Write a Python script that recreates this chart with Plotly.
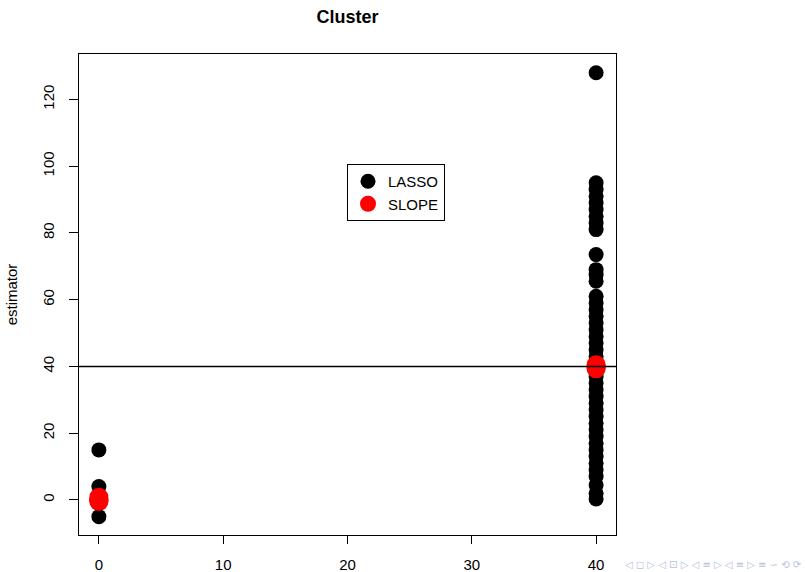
import plotly.graph_objects as go

# LASSO estimates: zero-truth coordinates (x = 0) and the 40-valued cluster (x = 40)
lasso_x0 = [15, 4, 1.5, 0.5, 0, -1, -5]
lasso_x40 = [128, 95, 93, 91, 89, 87, 85, 83, 81, 73.5, 69, 67.5, 65.5,
             61, 59, 57, 55, 53, 51, 49, 47, 45, 43, 41, 39, 37, 35, 33,
             31, 29, 27, 25, 23, 21, 19, 17, 15, 13, 11, 9, 7, 4.5, 2, 0.3]

# SLOPE estimates
slope_x0 = [0.8, 0.3, 0, -0.2, -0.5]
slope_x40 = [40.5, 40, 39.7, 39.3]

true_level = 40
x_ticks = [0, 10, 20, 30, 40]
y_ticks = [0, 20, 40, 60, 80, 100, 120]

lasso_x = [0] * len(lasso_x0) + [40] * len(lasso_x40)
lasso_y = lasso_x0 + lasso_x40
slope_x = [0] * len(slope_x0) + [40] * len(slope_x40)
slope_y = slope_x0 + slope_x40

font = "Liberation Sans, Arial, Helvetica, sans-serif"

fig = go.Figure()
fig.add_trace(go.Scatter(
    x=lasso_x, y=lasso_y, mode="markers", name="LASSO",
    marker=dict(color="black", size=15, line=dict(width=0)),
))
fig.add_trace(go.Scatter(
    x=slope_x, y=slope_y, mode="markers", name="SLOPE",
    marker=dict(color="#FF0000", size=19, line=dict(width=0)),
))

# horizontal reference line at the true cluster value
fig.add_shape(type="line", xref="paper", x0=0, x1=1, yref="y",
              y0=true_level, y1=true_level, line=dict(color="black", width=1.5))

fig.update_layout(
    width=806, height=572,
    margin=dict(l=79, r=190, t=54, b=37),
    paper_bgcolor="white", plot_bgcolor="white",
    font=dict(family=font, size=15, color="black"),
    title=dict(text="<b>Cluster</b>", x=(79 + 616) / 2 / 806, xanchor="center",
               y=1 - 17 / 572, yanchor="middle", font=dict(size=18)),
    showlegend=True,
    legend=dict(x=(347 - 79) / 537, y=(535 - 164) / 481, xanchor="left", yanchor="top",
                bordercolor="black", borderwidth=1, bgcolor="white",
                font=dict(size=15), itemsizing="trace", tracegroupgap=0,
                itemwidth=30),
    xaxis=dict(range=[-1.6, 41.6], tickvals=x_ticks, ticks="outside", ticklen=8,
               tickcolor="black", showgrid=False, zeroline=False,
               showline=True, linecolor="black", mirror=True, linewidth=1,
               ticklabelstandoff=8, tickfont=dict(size=15), automargin=False),
    yaxis=dict(range=[-10.5, 133.6], tickvals=y_ticks, ticks="outside", ticklen=9,
               tickcolor="black", showgrid=False, zeroline=False,
               showline=True, linecolor="black", mirror=True, linewidth=1,
               tickangle=-90, ticklabelstandoff=9, tickfont=dict(size=15),
               title=dict(text="estimator", standoff=18, font=dict(size=15)),
               automargin=False),
)

# beamer navigation symbols along the bottom edge
fig.add_annotation(
    text="◁ ◻ ▷ ◁ ⊡ ▷ ◁ ≡ ▷ ◁ ≡ ▷ ≡ ∽ ⟲ ⟳",
    xref="paper", yref="paper", x=1 + (804 - 616) / 537, y=-(572 - 535) / 481,
    xanchor="right", yanchor="bottom", showarrow=False,
    font=dict(size=10, color="#B7C1DC", family="DejaVu Sans"),
)

fig.write_html("out.html")
